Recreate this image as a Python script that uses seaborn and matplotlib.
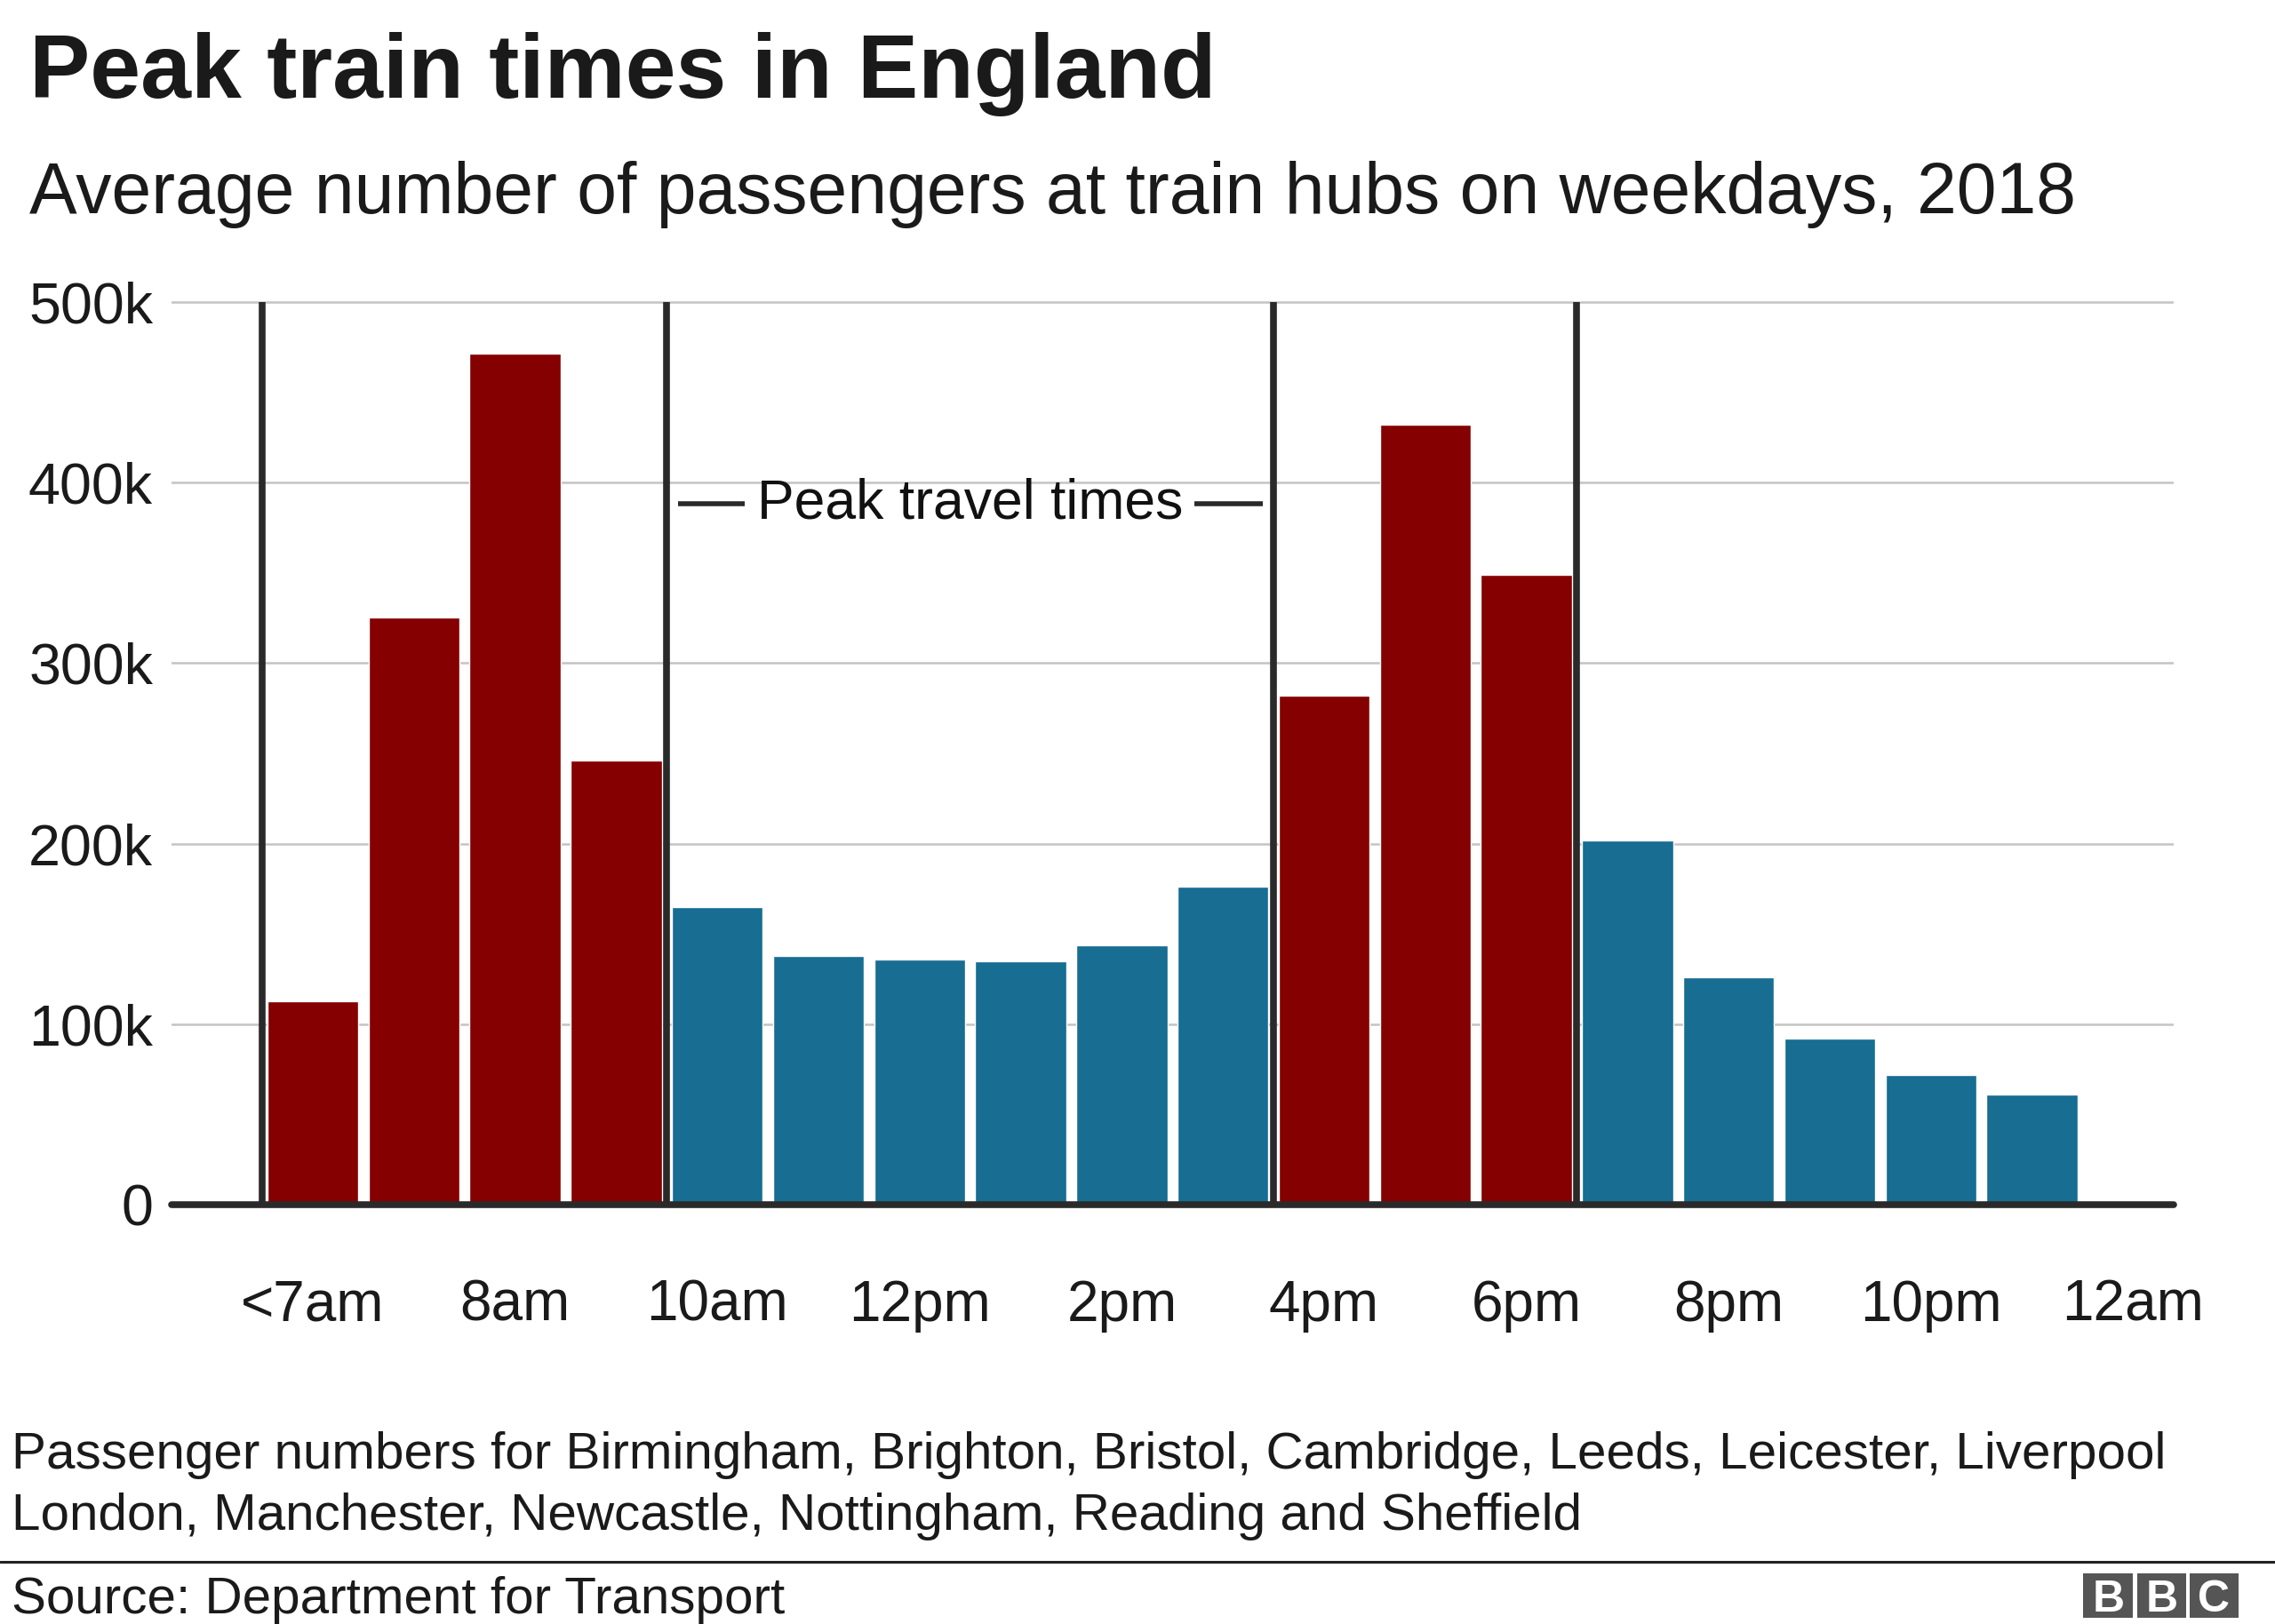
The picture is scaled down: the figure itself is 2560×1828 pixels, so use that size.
import matplotlib
matplotlib.use("Agg")
import matplotlib.pyplot as plt
from matplotlib.patches import Rectangle
from matplotlib.lines import Line2D
import seaborn as sns
import pandas as pd

# ---- data ----
hours = ["<7am", "7am", "8am", "9am", "10am", "11am", "12pm", "1pm", "2pm",
         "3pm", "4pm", "5pm", "6pm", "7pm", "8pm", "9pm", "10pm", "11pm"]
passengers = [113000, 325000, 471000, 246000, 165000, 138000, 136000, 135000, 144000,
              176000, 282000, 432000, 349000, 202000, 126000, 92000, 72000, 61000]
period = ["Peak"] * 4 + ["Off-peak"] * 6 + ["Peak"] * 3 + ["Off-peak"] * 5
tick_labels = ["<7am", "8am", "10am", "12pm", "2pm", "4pm", "6pm", "8pm", "10pm", "12am"]
y_ticks = [0, 100000, 200000, 300000, 400000, 500000]
y_tick_labels = ["0", "100k", "200k", "300k", "400k", "500k"]
peak_bounds = [-0.5, 3.5, 9.5, 12.5]

df = pd.DataFrame({"hour": hours, "passengers": passengers, "period": period})

RED = "#850000"
BLUE = "#176d92"
TXT = "#1a1a1a"

sns.set_theme(style="white")
plt.rcParams["font.family"] = ["Liberation Sans", "DejaVu Sans"]

fig = plt.figure(figsize=(25.6, 18.28), dpi=100)
ax = fig.add_axes([0.0753, 0.258, 0.8801, 0.5674])

sns.barplot(data=df, x="hour", y="passengers", hue="period", order=hours,
            palette={"Peak": RED, "Off-peak": BLUE}, dodge=False, width=0.9,
            saturation=1, legend=False, ax=ax, zorder=3)

ax.set_xlim(-1.4, 18.4)
ax.set_ylim(0, 510000)
for s in ax.spines.values():
    s.set_visible(False)

ax.set_yticks(y_ticks)
ax.set_yticklabels(y_tick_labels)
ax.set_xticks(list(range(0, 19, 2)))
ax.set_xticklabels(tick_labels)
ax.tick_params(axis="y", length=0, pad=15, labelsize=46.5, labelcolor=TXT)
ax.tick_params(axis="x", length=0, pad=60, labelsize=46, labelcolor=TXT)
ax.set_xlabel("")
ax.set_ylabel("")

ax.yaxis.grid(True, color="#c4c4c4", lw=1.8)
ax.xaxis.grid(False)
ax.set_axisbelow(True)

ax.axhline(0, color="#2a2a2a", lw=5.5, zorder=6, clip_on=False)
ax.vlines(peak_bounds, 0, 500000, color="#2a2a2a", lw=5.5, zorder=5)

# annotation
ax.text(6.5, 388000, "Peak travel times", ha="center", va="center",
        fontsize=45, color="#111111", zorder=7)
ax.plot([3.61, 4.27], [388000, 388000], color="#2a2a2a", lw=4, solid_capstyle="butt", zorder=7)
ax.plot([8.72, 9.39], [388000, 388000], color="#2a2a2a", lw=4, solid_capstyle="butt", zorder=7)

# titles
fig.text(0.0128, 0.940, "Peak train times in England", fontsize=73.6,
         fontweight="bold", color=TXT, ha="left", va="baseline")
fig.text(0.0128, 0.8688, "Average number of passengers at train hubs on weekdays, 2018",
         fontsize=58, color=TXT, ha="left", va="baseline")

# footnote
fig.text(0.0051, 0.0955, "Passenger numbers for Birmingham, Brighton, Bristol, Cambridge, Leeds, Leicester, Liverpool",
         fontsize=42, color=TXT, ha="left", va="baseline")
fig.text(0.0051, 0.0580, "London, Manchester, Newcastle, Nottingham, Reading and Sheffield",
         fontsize=42, color=TXT, ha="left", va="baseline")
fig.add_artist(Line2D([0, 1], [0.0384, 0.0384], transform=fig.transFigure,
                      color="#222222", lw=2.2))
fig.text(0.0051, 0.0068, "Source: Department for Transport",
         fontsize=42, color=TXT, ha="left", va="baseline")

# BBC logo
box_w, box_h = 34 / 1568, 31 / 1120
box_y = 1 - 1116 / 1120
for x0, letter in zip([1436 / 1568, 1473 / 1568, 1509 / 1568], ["B", "B", "C"]):
    fig.add_artist(Rectangle((x0, box_y), box_w, box_h, transform=fig.transFigure,
                             facecolor="#555555", edgecolor="none"))
    fig.text(x0 + box_w / 2, box_y + box_h / 2, letter, color="white", fontsize=36,
             fontweight="bold", ha="center", va="center_baseline")

fig.savefig("out.png", dpi=100, facecolor="white")
